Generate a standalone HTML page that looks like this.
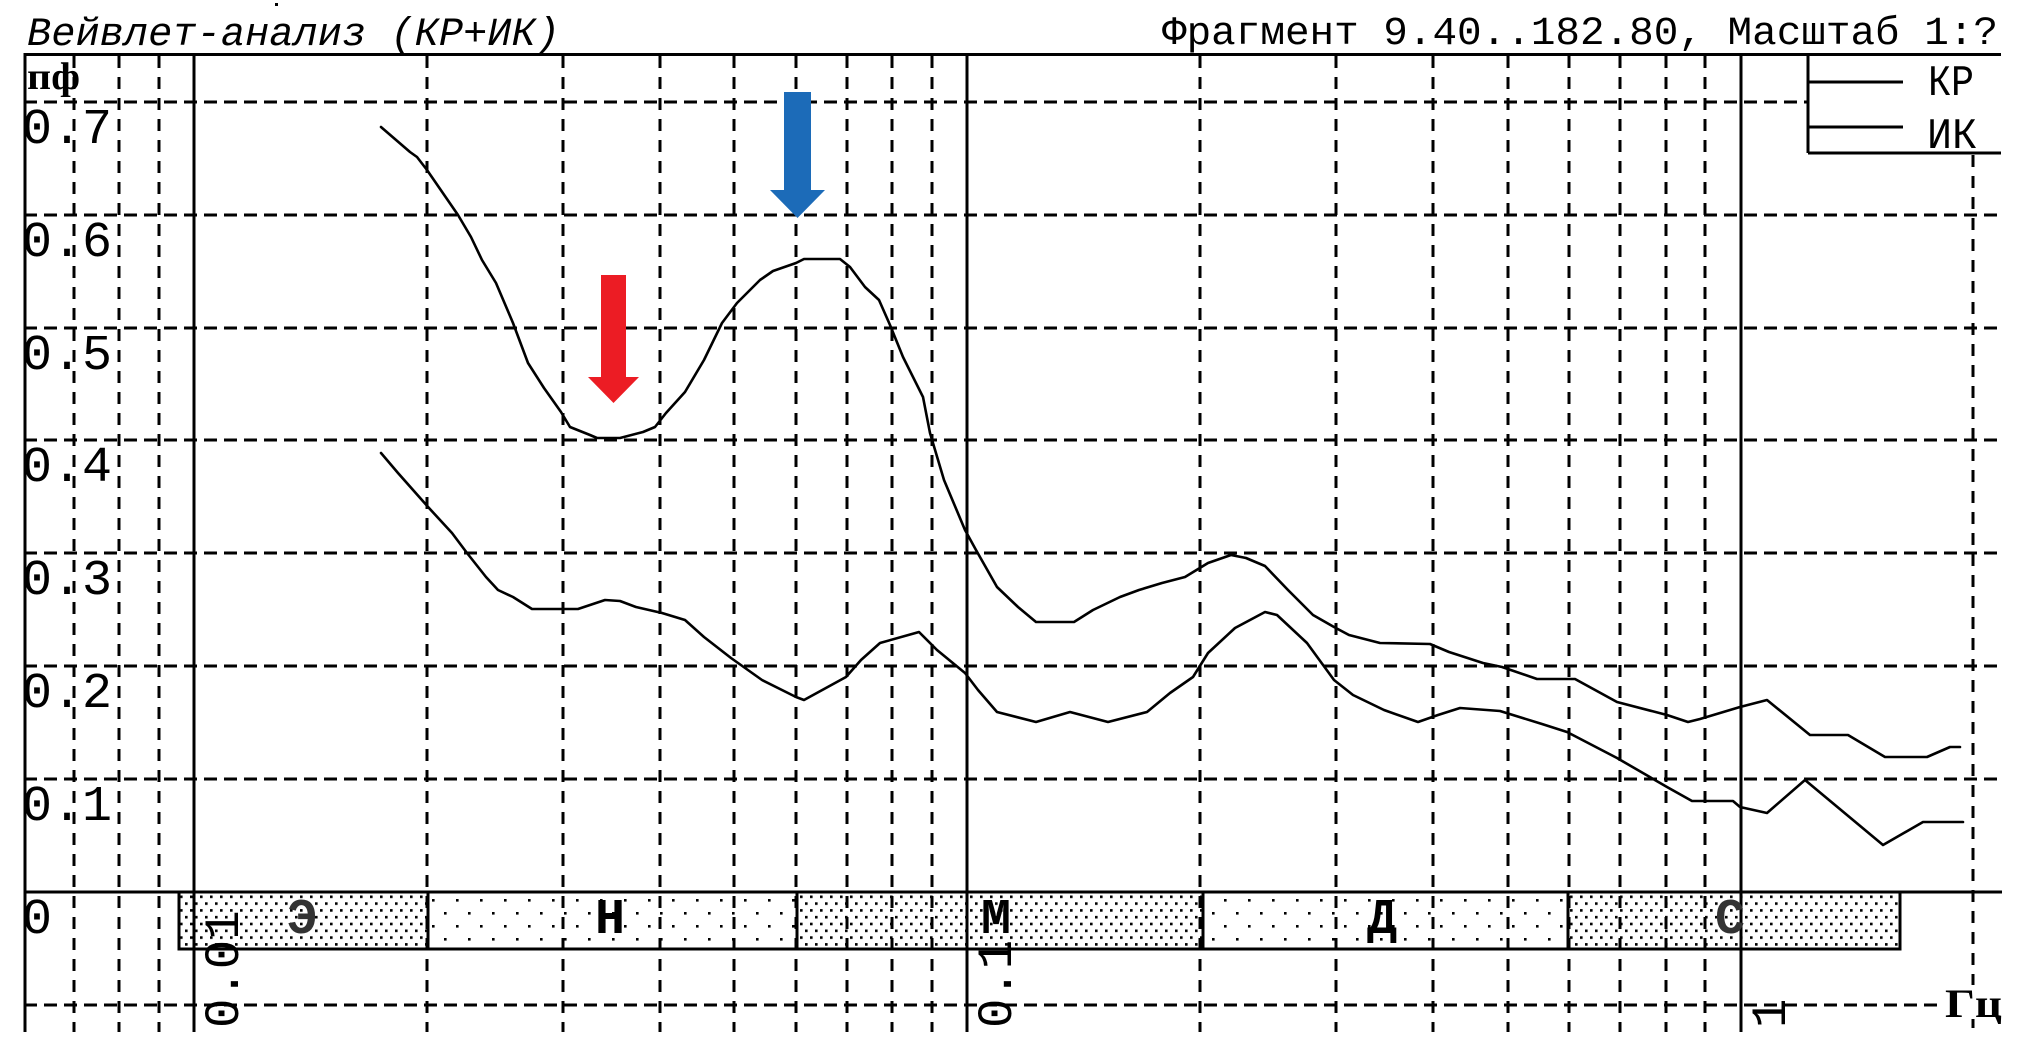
<!DOCTYPE html>
<html><head><meta charset="utf-8"><style>
html,body{margin:0;padding:0;background:#fff;}
svg{display:block;}
</style></head><body>
<svg width="2020" height="1059" viewBox="0 0 2020 1059" xmlns="http://www.w3.org/2000/svg">
<defs>
<pattern id="dense" width="10" height="13.6" patternUnits="userSpaceOnUse" x="179" y="894">
<rect x="1" y="1.5" width="2.6" height="2.6" fill="#000"/>
<rect x="6" y="8.3" width="2.6" height="2.6" fill="#000"/>
</pattern>
<pattern id="sparse" width="24" height="26" patternUnits="userSpaceOnUse" x="428" y="894">
<rect x="4" y="5" width="2.6" height="2.6" fill="#000"/>
<rect x="16" y="18" width="2.6" height="2.6" fill="#000"/>
</pattern>
</defs>
<rect x="0" y="0" width="2020" height="1059" fill="#fff"/>

<!-- band backgrounds -->
<g stroke="none">
<rect x="179" y="892" width="249" height="57" fill="url(#dense)"/>
<rect x="428" y="892" width="369" height="57" fill="url(#sparse)"/>
<rect x="797" y="892" width="406" height="57" fill="url(#dense)"/>
<rect x="1203" y="892" width="365" height="57" fill="url(#sparse)"/>
<rect x="1568" y="892" width="332" height="57" fill="url(#dense)"/>
</g>

<!-- horizontal dashed grid -->
<g stroke="#000" stroke-width="3" stroke-dasharray="13 7" fill="none">
<line x1="24" y1="102" x2="1808" y2="102"/>
<line x1="24" y1="215" x2="2001" y2="215"/>
<line x1="24" y1="328" x2="2001" y2="328"/>
<line x1="24" y1="440" x2="2001" y2="440"/>
<line x1="24" y1="553" x2="2001" y2="553"/>
<line x1="24" y1="666" x2="2001" y2="666"/>
<line x1="24" y1="779" x2="2001" y2="779"/>
<line x1="24" y1="1005" x2="2001" y2="1005"/>
</g>

<!-- vertical dashed grid -->
<g stroke="#000" stroke-width="3" stroke-dasharray="12 9" fill="none">
<line x1="74" y1="56" x2="74" y2="1032"/>
<line x1="119" y1="56" x2="119" y2="1032"/>
<line x1="159" y1="56" x2="159" y2="1032"/>
<line x1="427" y1="56" x2="427" y2="1032"/>
<line x1="563" y1="56" x2="563" y2="1032"/>
<line x1="660" y1="56" x2="660" y2="1032"/>
<line x1="734" y1="56" x2="734" y2="1032"/>
<line x1="796" y1="56" x2="796" y2="1032"/>
<line x1="847" y1="56" x2="847" y2="1032"/>
<line x1="892" y1="56" x2="892" y2="1032"/>
<line x1="932" y1="56" x2="932" y2="1032"/>
<line x1="1200" y1="56" x2="1200" y2="1032"/>
<line x1="1336" y1="56" x2="1336" y2="1032"/>
<line x1="1433" y1="56" x2="1433" y2="1032"/>
<line x1="1508" y1="56" x2="1508" y2="1032"/>
<line x1="1569" y1="56" x2="1569" y2="1032"/>
<line x1="1620" y1="56" x2="1620" y2="1032"/>
<line x1="1666" y1="56" x2="1666" y2="1032"/>
<line x1="1705" y1="56" x2="1705" y2="1032"/>
<line x1="1973" y1="155" x2="1973" y2="1032"/>
</g>

<!-- band borders -->
<g stroke="#000" stroke-width="3" fill="none">
<rect x="179" y="892" width="1721" height="57"/>
<line x1="428" y1="892" x2="428" y2="949"/>
<line x1="797" y1="892" x2="797" y2="949"/>
<line x1="1203" y1="892" x2="1203" y2="949"/>
<line x1="1568" y1="892" x2="1568" y2="949"/>
</g>

<!-- solid frame / axes -->
<g stroke="#000" stroke-width="3" fill="none">
<line x1="24" y1="54.5" x2="2001" y2="54.5"/>
<line x1="25" y1="53" x2="25" y2="1032"/>
<line x1="194" y1="53" x2="194" y2="1032"/>
<line x1="967" y1="53" x2="967" y2="1032"/>
<line x1="1741" y1="53" x2="1741" y2="1032"/>
<line x1="24" y1="892" x2="2002" y2="892"/>
<!-- legend -->
<line x1="1808" y1="53" x2="1808" y2="153"/>
<line x1="1808" y1="153" x2="2001" y2="153"/>
<line x1="1808" y1="82" x2="1903" y2="82"/>
<line x1="1808" y1="127" x2="1903" y2="127"/>
</g>

<!-- curves -->
<g stroke="#000" stroke-width="2.6" fill="none" stroke-linejoin="round" stroke-linecap="round">
<polyline points="381,127 410,152 417,157 427,170 458,215 471,237 482,260 496,283 513,323 528,363 544,388 561,412 570,427 590,435 597,438 620,438 643,432 655,427 666,413 685,392 704,360 722,323 737,303 760,280 773,271 796,263 804,259 840,259 850,267 865,287 879,300 890,325 903,357 923,397 930,433 944,480 965,530 976,550 997,587 1018,607 1036,622 1074,622 1093,610 1120,597 1139,590 1162,583 1185,577 1208,563 1231,555 1246,558 1265,566 1288,590 1313,615 1334,627 1349,635 1380,643 1430,644 1449,652 1483,663 1502,667 1537,679 1575,679 1617,702 1667,715 1688,722 1700,719 1740,707 1767,700 1810,735 1848,735 1885,757 1927,757 1950,747 1960,747"/>
<polyline points="381,453 398,473 429,508 452,533 467,553 486,577 498,590 513,597 532,609 578,609 605,600 620,601 636,607 662,613 685,620 704,637 731,658 762,680 796,697 804,700 846,677 861,660 880,643 919,632 937,650 965,673 978,690 997,712 1036,722 1070,712 1108,722 1147,712 1170,693 1193,677 1208,653 1235,628 1265,612 1277,615 1307,643 1334,680 1353,695 1384,710 1418,722 1438,715 1460,708 1500,711 1542,724 1567,732 1617,758 1667,787 1692,801 1733,801 1740,807 1767,813 1805,780 1883,845 1923,822 1963,822"/>
</g>

<!-- arrows -->
<g stroke="none">
<rect x="601" y="275" width="25" height="103" fill="#ec1c24"/>
<polygon points="588,377 639,377 613.5,403" fill="#ec1c24"/>
<rect x="784" y="92" width="27" height="99" fill="#1c6bb8"/>
<polygon points="770,190 825,190 797.5,218" fill="#1c6bb8"/>
</g>

<!-- texts -->
<g fill="#000">
<text x="27" y="45" font-family="Liberation Mono, monospace" font-style="italic" font-size="40" textLength="533" lengthAdjust="spacingAndGlyphs">Вейвлет-анализ (КР+ИК)</text>
<text x="1162" y="44" font-family="Liberation Mono, monospace" font-size="40" textLength="836" lengthAdjust="spacingAndGlyphs">Фрагмент 9.40..182.80, Масштаб 1:?</text>
<text x="1928" y="95" font-family="Liberation Mono, monospace" font-size="44" textLength="46" lengthAdjust="spacingAndGlyphs">КР</text>
<text x="1927" y="148" font-family="Liberation Mono, monospace" font-size="44" textLength="50" lengthAdjust="spacingAndGlyphs">ИК</text>
<text x="27" y="89" font-family="Liberation Serif, serif" font-weight="bold" font-size="38" textLength="53" lengthAdjust="spacingAndGlyphs">пф</text>

<g font-family="Liberation Mono, monospace" font-size="50">
<text x="22" y="143">0.7</text>
<text x="22" y="256">0.6</text>
<text x="22" y="369">0.5</text>
<text x="22" y="481">0.4</text>
<text x="22" y="594">0.3</text>
<text x="22" y="707">0.2</text>
<text x="22" y="820">0.1</text>
<text x="22" y="933">0</text>
</g>

<g font-family="Liberation Mono, monospace" font-size="49">
<text transform="translate(238,1028) rotate(-90)">0.01</text>
<text transform="translate(1011,1028) rotate(-90)">0.1</text>
<text transform="translate(1785,1028) rotate(-90)">1</text>
</g>

<g font-family="Liberation Mono, monospace" font-weight="bold" font-size="50" text-anchor="middle">
<text x="302" y="933" fill="#333">Э</text>
<text x="610" y="933">Н</text>
<text x="996" y="933">М</text>
<text x="1382" y="933">Д</text>
<text x="1730" y="933" fill="#333">С</text>
</g>

<rect x="1943" y="985" width="62" height="34" fill="#fff"/>
<text x="1945" y="1017" font-family="Liberation Serif, serif" font-weight="bold" font-size="40" textLength="57" lengthAdjust="spacingAndGlyphs">Гц</text>
<rect x="275" y="3" width="3" height="3" fill="#000"/>
</g>
</svg>
</body></html>
